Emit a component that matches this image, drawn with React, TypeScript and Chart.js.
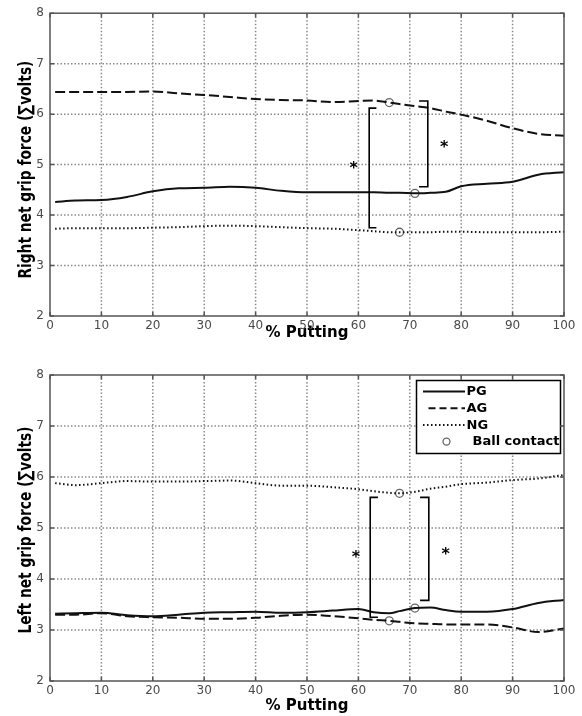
import React, { useEffect, useRef } from "react";
import { Chart, registerables } from "chart.js";

Chart.register(...registerables);

// % of putting stroke (x positions of the sampled curve points)
const PCT = [1, 5, 10, 15, 20, 25, 30, 35, 40, 45, 50, 55, 60, 63, 66, 68, 71, 74, 77, 80, 85, 90, 95, 100];

// Right hand net grip force
const RIGHT_PG = [4.26, 4.29, 4.30, 4.36, 4.47, 4.53, 4.54, 4.56, 4.54, 4.48, 4.45, 4.45, 4.45, 4.45, 4.44, 4.44, 4.43, 4.44, 4.46, 4.57, 4.62, 4.66, 4.80, 4.85];
const RIGHT_AG = [6.44, 6.44, 6.44, 6.44, 6.45, 6.41, 6.38, 6.34, 6.30, 6.28, 6.27, 6.24, 6.26, 6.27, 6.23, 6.20, 6.16, 6.12, 6.05, 5.99, 5.87, 5.72, 5.61, 5.57];
const RIGHT_NG = [3.73, 3.74, 3.74, 3.74, 3.75, 3.76, 3.78, 3.79, 3.78, 3.76, 3.74, 3.73, 3.70, 3.68, 3.66, 3.66, 3.66, 3.66, 3.67, 3.67, 3.66, 3.66, 3.66, 3.67];
const RIGHT_CONTACT_X = [66, 71, 68];
const RIGHT_CONTACT_Y = [6.23, 4.43, 3.66];
const RIGHT_BRACKET_X = [62.1, 73.5];
const RIGHT_BRACKET_END = [63.5, 71.8];
const RIGHT_BRACKET_LOW = [3.75, 4.56];
const RIGHT_BRACKET_HIGH = [6.12, 6.26];
const RIGHT_STAR_X = [59.1, 76.7];
const RIGHT_STAR_Y = [4.98, 5.40];

// Left hand net grip force
const LEFT_PG = [3.32, 3.33, 3.34, 3.29, 3.27, 3.30, 3.34, 3.35, 3.36, 3.34, 3.35, 3.38, 3.41, 3.35, 3.33, 3.37, 3.43, 3.44, 3.39, 3.36, 3.36, 3.41, 3.53, 3.59];
const LEFT_AG = [3.30, 3.30, 3.33, 3.27, 3.25, 3.24, 3.22, 3.22, 3.24, 3.28, 3.30, 3.27, 3.23, 3.20, 3.18, 3.16, 3.13, 3.12, 3.11, 3.11, 3.11, 3.05, 2.96, 3.03];
const LEFT_NG = [5.88, 5.84, 5.88, 5.92, 5.91, 5.91, 5.92, 5.93, 5.88, 5.83, 5.83, 5.80, 5.76, 5.72, 5.69, 5.68, 5.71, 5.77, 5.81, 5.86, 5.89, 5.94, 5.97, 6.04];
const LEFT_CONTACT_X = [66, 71, 68];
const LEFT_CONTACT_Y = [3.18, 3.43, 5.68];
const LEFT_BRACKET_X = [62.3, 73.7];
const LEFT_BRACKET_END = [63.8, 72.0];
const LEFT_BRACKET_LOW = [3.25, 3.58];
const LEFT_BRACKET_HIGH = [5.60, 5.60];
const LEFT_STAR_X = [59.5, 77.0];
const LEFT_STAR_Y = [4.47, 4.53];

const X_TICKS = [0, 10, 20, 30, 40, 50, 60, 70, 80, 90, 100];
const Y_TICKS = [2, 3, 4, 5, 6, 7, 8];
const LEGEND_LABELS = ["PG", "AG", "NG", "Ball contact"];
const X_TITLE = "% Putting";
const RIGHT_Y_TITLE = "Right net grip force (\u2211volts)";
const LEFT_Y_TITLE = "Left net grip force (\u2211volts)";

const FONT = "'DejaVu Sans', sans-serif";

type PanelProps = {
  height: number;
  padTop: number;
  xAxisHeight: number;
  titlePadBottom: number;
  yTitle: string;
  yTitleShift: number;
  pg: number[];
  ag: number[];
  ng: number[];
  contactX: number[];
  contactY: number[];
  bracketX: number[];
  bracketEnd: number[];
  bracketLow: number[];
  bracketHigh: number[];
  starX: number[];
  starY: number[];
  legend: boolean;
};

function drawGrid(chart: any) {
  const { ctx, chartArea: a } = chart;
  const x = chart.scales.x;
  const y = chart.scales.y;
  ctx.save();
  ctx.strokeStyle = "#8a8a8a";
  ctx.lineWidth = 1.5;
  ctx.lineCap = "butt";
  ctx.setLineDash([1.5, 2]);
  X_TICKS.slice(1, -1).forEach((v) => {
    const px = x.getPixelForValue(v);
    ctx.beginPath();
    ctx.moveTo(px, a.top);
    ctx.lineTo(px, a.bottom);
    ctx.stroke();
  });
  Y_TICKS.slice(1, -1).forEach((v) => {
    const py = y.getPixelForValue(v);
    ctx.beginPath();
    ctx.moveTo(a.left, py);
    ctx.lineTo(a.right, py);
    ctx.stroke();
  });
  ctx.restore();
}

function makeOverlay(p: PanelProps) {
  return {
    id: "overlay",
    beforeDatasetsDraw(chart: any) {
      drawGrid(chart);
    },
    afterDatasetsDraw(chart: any) {
      const { ctx, chartArea: a } = chart;
      const x = chart.scales.x;
      const y = chart.scales.y;
      ctx.save();
      // significance brackets
      ctx.strokeStyle = "#000";
      ctx.lineWidth = 1.6;
      ctx.setLineDash([]);
      p.bracketX.forEach((bx, i) => {
        const px = x.getPixelForValue(bx);
        const pe = x.getPixelForValue(p.bracketEnd[i]);
        const pl = y.getPixelForValue(p.bracketLow[i]);
        const ph = y.getPixelForValue(p.bracketHigh[i]);
        ctx.beginPath();
        ctx.moveTo(pe, ph);
        ctx.lineTo(px, ph);
        ctx.lineTo(px, pl);
        ctx.lineTo(pe, pl);
        ctx.stroke();
      });
      // stars
      ctx.fillStyle = "#000";
      ctx.font = `bold 16px ${FONT}`;
      ctx.textAlign = "center";
      ctx.textBaseline = "middle";
      p.starX.forEach((sx, i) => {
        ctx.fillText("*", x.getPixelForValue(sx), y.getPixelForValue(p.starY[i]) + 3);
      });
      // legend
      if (p.legend) {
        const bw = 144;
        const bh = 73;
        const bx = a.right - 3.5 - bw;
        const by = a.top + 5.5;
        ctx.fillStyle = "#fff";
        ctx.fillRect(bx, by, bw, bh);
        ctx.strokeStyle = "#000";
        ctx.lineWidth = 1.5;
        ctx.strokeRect(bx, by, bw, bh);
        const dashes = [[], [7, 4], [1.5, 2.5]];
        LEGEND_LABELS.forEach((lab, i) => {
          const ry = by + 11 + i * 16.7;
          if (i < 3) {
            ctx.strokeStyle = "#111";
            ctx.lineWidth = 2;
            ctx.setLineDash(dashes[i]);
            ctx.beginPath();
            ctx.moveTo(i === 1 ? bx + 12 : bx + 6.5, ry);
            ctx.lineTo(bx + 48.5, ry);
            ctx.stroke();
            ctx.setLineDash([]);
          } else {
            ctx.strokeStyle = "#666";
            ctx.lineWidth = 1.3;
            ctx.beginPath();
            ctx.arc(bx + 30, ry, 3.5, 0, Math.PI * 2);
            ctx.stroke();
          }
          ctx.fillStyle = "#000";
          ctx.font = `bold 13px ${FONT}`;
          ctx.textAlign = "left";
          ctx.textBaseline = "middle";
          ctx.fillText(lab, i === 3 ? bx + 56 : bx + 50, ry + 0.5);
        });
      }
      // frame
      ctx.setLineDash([]);
      ctx.strokeStyle = "#555";
      ctx.lineWidth = 1.5;
      ctx.strokeRect(a.left, a.top, a.right - a.left, a.bottom - a.top);
      // inward tick marks
      ctx.lineWidth = 1.5;
      X_TICKS.forEach((v) => {
        const px = x.getPixelForValue(v);
        ctx.beginPath();
        ctx.moveTo(px, a.bottom);
        ctx.lineTo(px, a.bottom - 4);
        ctx.moveTo(px, a.top);
        ctx.lineTo(px, a.top + 4);
        ctx.stroke();
      });
      Y_TICKS.forEach((v) => {
        const py = y.getPixelForValue(v);
        ctx.beginPath();
        ctx.moveTo(a.left, py);
        ctx.lineTo(a.left + 4, py);
        ctx.moveTo(a.right, py);
        ctx.lineTo(a.right - 4, py);
        ctx.stroke();
      });
      // y-axis title (tall, condensed bold lettering)
      ctx.font = `bold 18px ${FONT}`;
      const sx = 218 / ctx.measureText(RIGHT_Y_TITLE).width;
      ctx.translate(31, (a.top + a.bottom) / 2 + p.yTitleShift);
      ctx.rotate(-Math.PI / 2);
      ctx.scale(sx, 1);
      ctx.fillStyle = "#000";
      ctx.textAlign = "center";
      ctx.textBaseline = "alphabetic";
      ctx.fillText(p.yTitle, 0, 0);
      ctx.restore();
    },
  };
}

function Panel(p: PanelProps) {
  const ref = useRef<HTMLCanvasElement>(null);
  useEffect(() => {
    const toPts = (arr: number[]) => PCT.map((x, i) => ({ x, y: arr[i] }));
    const line = { borderColor: "#111", borderWidth: 2, pointRadius: 0, cubicInterpolationMode: "monotone" as const, fill: false };
    const chart = new Chart(ref.current!, {
      type: "line",
      data: {
        datasets: [
          { ...line, label: LEGEND_LABELS[0], data: toPts(p.pg) },
          { ...line, label: LEGEND_LABELS[1], data: toPts(p.ag), borderDash: [10, 4] },
          { ...line, label: LEGEND_LABELS[2], data: toPts(p.ng), borderDash: [1.5, 2.5] },
          {
            label: LEGEND_LABELS[3],
            data: p.contactX.map((x, i) => ({ x, y: p.contactY[i] })),
            showLine: false,
            pointRadius: 4,
            pointStyle: "circle",
            borderColor: "#666",
            backgroundColor: "rgba(255,255,255,0)",
            pointBorderWidth: 1.3,
          },
        ],
      },
      options: {
        responsive: false,
        animation: false,
        events: [],
        layout: { padding: { top: p.padTop, right: 18, left: 0, bottom: 0 } },
        plugins: { legend: { display: false }, tooltip: { enabled: false } },
        scales: {
          x: {
            type: "linear",
            min: 0,
            max: 100,
            afterFit: (s: any) => { s.height = p.xAxisHeight; },
            ticks: { stepSize: 10, autoSkip: false, maxRotation: 0, padding: 3, color: "#4a4a4a", font: { family: FONT, size: 12 } },
            grid: { display: false, drawTicks: false },
            border: { display: false },
            title: { display: true, text: X_TITLE, color: "#000", font: { family: FONT, size: 15, weight: "bold" }, padding: { top: 0, bottom: p.titlePadBottom } },
          },
          y: {
            type: "linear",
            min: 2,
            max: 8,
            afterFit: (s: any) => { s.width = 50; },
            ticks: { stepSize: 1, padding: 6, color: "#4a4a4a", font: { family: FONT, size: 12 } },
            grid: { display: false, drawTicks: false },
            border: { display: false },
            title: { display: false },
          },
        },
      } as any,
      plugins: [makeOverlay(p)],
    });
    return () => chart.destroy();
  }, []);
  return <canvas ref={ref} width={582} height={p.height} style={{ display: "block", width: 582, height: p.height }} />;
}

export default function App() {
  return (
    <div style={{ position: "fixed", left: 0, top: 0, width: 582, height: 716, background: "#fff" }}>
      <Panel
        height={345}
        padTop={11}
        xAxisHeight={29}
        titlePadBottom={3}
        yTitle={RIGHT_Y_TITLE}
        yTitleShift={5}
        pg={RIGHT_PG}
        ag={RIGHT_AG}
        ng={RIGHT_NG}
        contactX={RIGHT_CONTACT_X}
        contactY={RIGHT_CONTACT_Y}
        bracketX={RIGHT_BRACKET_X}
        bracketEnd={RIGHT_BRACKET_END}
        bracketLow={RIGHT_BRACKET_LOW}
        bracketHigh={RIGHT_BRACKET_HIGH}
        starX={RIGHT_STAR_X}
        starY={RIGHT_STAR_Y}
        legend={false}
      />
      <Panel
        height={371}
        padTop={30}
        xAxisHeight={35}
        titlePadBottom={1}
        yTitle={LEFT_Y_TITLE}
        yTitleShift={2}
        pg={LEFT_PG}
        ag={LEFT_AG}
        ng={LEFT_NG}
        contactX={LEFT_CONTACT_X}
        contactY={LEFT_CONTACT_Y}
        bracketX={LEFT_BRACKET_X}
        bracketEnd={LEFT_BRACKET_END}
        bracketLow={LEFT_BRACKET_LOW}
        bracketHigh={LEFT_BRACKET_HIGH}
        starX={LEFT_STAR_X}
        starY={LEFT_STAR_Y}
        legend={true}
      />
    </div>
  );
}
